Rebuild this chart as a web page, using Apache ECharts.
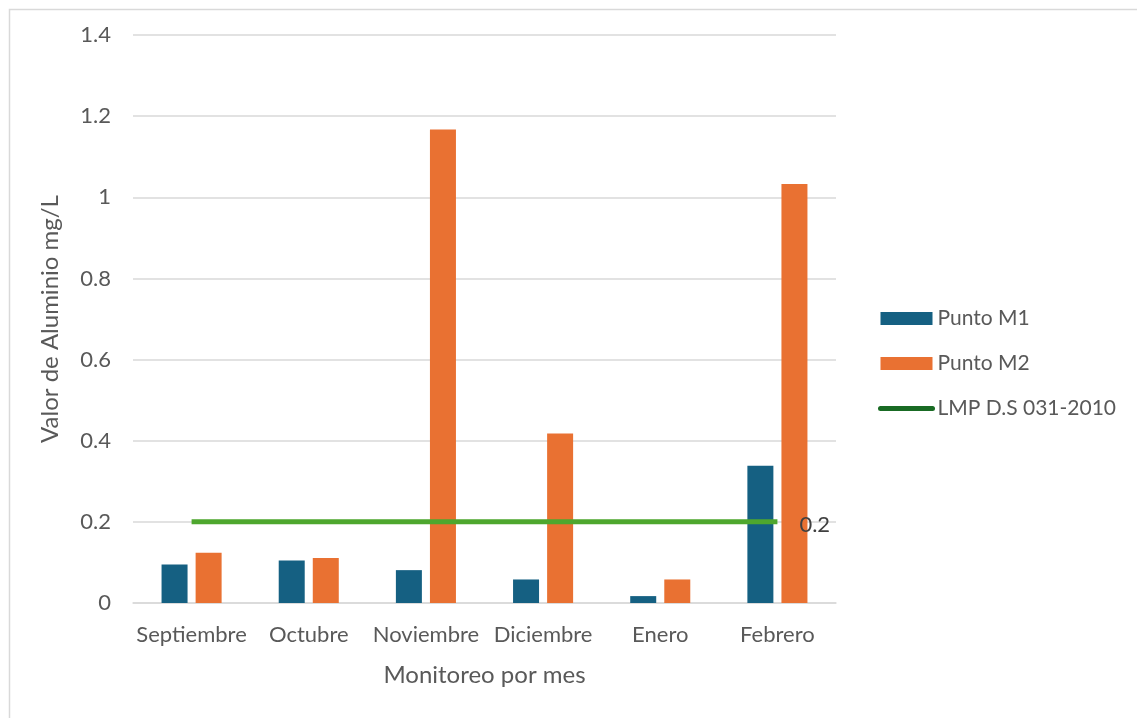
<!DOCTYPE html>
<html>
<head>
<meta charset="utf-8">
<script src="https://cdn.jsdelivr.net/npm/echarts@6/dist/echarts.min.js"></script>
<style>
  html, body { margin: 0; padding: 0; background: #fff; }
  #chart { width: 1137px; height: 718px; }
</style>
</head>
<body>
<div id="chart"></div>
<script>
// Monthly aluminium readings at two sampling points, with the regulatory limit
const months = ['Septiembre', 'Octubre', 'Noviembre', 'Diciembre', 'Enero', 'Febrero'];
const puntoM1 = [0.095, 0.105, 0.081, 0.058, 0.017, 0.338];
const puntoM2 = [0.124, 0.111, 1.167, 0.418, 0.058, 1.033];
const limite = [0.2, 0.2, 0.2, 0.2, 0.2, 0.2];

const FONT = 'Lato';
const TEXT = '#595959';

const chart = echarts.init(document.getElementById('chart'));

chart.setOption({
  animation: false,
  textStyle: { fontFamily: FONT },
  graphic: [{
    type: 'rect',
    left: 7, top: 7,
    shape: { width: 1200, height: 800 },
    style: { fill: 'none', stroke: '#d9d9d9', lineWidth: 1.5 },
    silent: true
  }],
  grid: { left: 133, right: 301, top: 35, bottom: 115, containLabel: false },
  legend: {
    orient: 'vertical',
    left: 878,
    top: 308,
    padding: 0,
    itemWidth: 52,
    itemHeight: 13,
    itemGap: 24,
    textStyle: { fontFamily: FONT, fontSize: 21, color: TEXT },
    data: [
      { name: 'Punto M1', icon: 'rect' },
      { name: 'Punto M2', icon: 'rect' },
      { name: 'LMP D.S 031-2010', itemStyle: { opacity: 0 },
        lineStyle: { color: '#196b24', width: 5, cap: 'round' } }
    ]
  },
  xAxis: {
    type: 'category',
    data: months,
    name: 'Monitoreo por mes',
    nameLocation: 'middle',
    nameGap: 60,
    nameTextStyle: { fontFamily: FONT, fontSize: 24, color: TEXT },
    axisLine: { lineStyle: { color: '#d9d9d9', width: 1.5 } },
    axisTick: { show: false },
    axisLabel: { fontFamily: FONT, fontSize: 22, color: TEXT, margin: 21, interval: 0 }
  },
  yAxis: {
    type: 'value',
    min: 0, max: 1.4, interval: 0.2,
    name: 'Valor de Aluminio mg/L',
    nameLocation: 'middle',
    nameGap: 71,
    nameTextStyle: { fontFamily: FONT, fontSize: 24, color: TEXT },
    axisLine: { show: false },
    axisTick: { show: false },
    axisLabel: { fontFamily: FONT, fontSize: 22, color: TEXT, margin: 22,
      formatter: v => String(Math.round(v * 10) / 10) },
    splitLine: { lineStyle: { color: '#d9d9d9', width: 1.5 } }
  },
  series: [
    {
      name: 'Punto M1', type: 'bar', data: puntoM1,
      barWidth: 26, barGap: '31%',
      itemStyle: { color: '#156082' }
    },
    {
      name: 'Punto M2', type: 'bar', data: puntoM2,
      barWidth: 26,
      itemStyle: { color: '#e97132' }
    },
    {
      name: 'LMP D.S 031-2010', type: 'line',
      data: limite,
      symbol: 'none',
      lineStyle: { color: '#4ea72e', width: 5 },
      endLabel: { show: true, distance: 22, offset: [0, 3], formatter: p => String(p.value),
        fontFamily: FONT, fontSize: 22, color: '#404040' },
      z: 5
    }
  ]
});
</script>
</body>
</html>
